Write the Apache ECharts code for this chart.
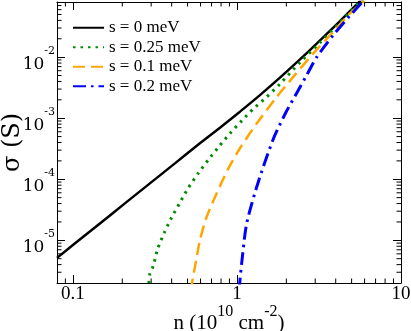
<!DOCTYPE html>
<html>
<head>
<meta charset="utf-8">
<script src="https://cdn.jsdelivr.net/npm/echarts@6/dist/echarts.min.js"></script>
<style>html,body{margin:0;padding:0;background:#fff}#c{width:411px;height:331px}</style>
</head>
<body>
<div id="c"></div>
<script>
// ---- data (n in 10^10 cm^-2, sigma in S) ----
const seriesNames = ['s = 0 meV', 's = 0.25 meV', 's = 0.1 meV', 's = 0.2 meV'];

const nS0 = [0.08, 0.1, 0.1461, 0.2075, 0.2947, 0.4188, 0.5947, 0.7877, 1.043, 1.381, 1.829, 2.422, 3.062, 4.246, 5.492, 6.03];
const sigS0 = [5.16e-6, 8.37e-6, 1.89e-5, 4.03e-5, 8.57e-5, 1.82e-4, 3.88e-4, 6.99e-4, 1.28e-3, 2.39e-3, 4.61e-3, 9.17e-3, 0.0166, 0.0389, 0.0776, 0.1005];

const nS025 = [0.2885, 0.2905, 0.2947, 0.3088, 0.3285, 0.3602, 0.3997, 0.4492, 0.5047, 0.5807, 0.668, 0.7766, 0.906, 1.073, 1.270, 1.503, 1.829, 2.422, 3.207, 4.246, 5.469, 6.1];
const sigS025 = [1.5e-6, 1.97e-6, 2.85e-6, 3.79e-6, 7.2e-6, 1.32e-5, 2.36e-5, 4.15e-5, 7.2e-5, 1.25e-4, 2.07e-4, 3.43e-4, 5.61e-4, 9.16e-4, 1.46e-3, 2.17e-3, 3.64e-3, 8.2e-3, 0.0172, 0.0368, 0.0755, 0.098];

const nS01 = [0.5264, 0.5316, 0.5543, 0.5947, 0.6534, 0.7517, 0.885, 1.043, 1.319, 1.746, 2.204, 2.919, 3.866, 4.887, 5.866, 6.29];
const sigS01 = [1.51e-6, 1.97e-6, 3.65e-6, 1.0e-5, 2.41e-5, 5.83e-5, 1.49e-4, 3.22e-4, 8.18e-4, 2.23e-3, 4.75e-3, 0.0115, 0.026, 0.052, 0.0807, 0.1];

const nS02 = [1.033, 1.039, 1.068, 1.146, 1.349, 1.664, 1.990, 2.365, 2.661, 3.062, 3.866, 4.887, 5.760, 6.2];
const sigS02 = [1.51e-6, 1.97e-6, 4.15e-6, 1.88e-5, 9.03e-5, 4.53e-4, 1.25e-3, 2.87e-3, 5.07e-3, 0.01, 0.023, 0.0479, 0.0781, 0.1];

// axis ranges and tick values
const xRange = [0.08, 10];
const yRange = [2e-6, 0.08];
const xMinorTicks = [0.09, 0.2, 0.3, 0.4, 0.5, 0.6, 0.7, 0.8, 0.9, 2, 3, 4, 5, 6, 7, 8, 9];
const yMinorTicks = [3e-6, 4e-6, 5e-6, 6e-6, 7e-6, 8e-6, 9e-6,
  2e-5, 3e-5, 4e-5, 5e-5, 6e-5, 7e-5, 8e-5, 9e-5,
  2e-4, 3e-4, 4e-4, 5e-4, 6e-4, 7e-4, 8e-4, 9e-4,
  2e-3, 3e-3, 4e-3, 5e-3, 6e-3, 7e-3, 8e-3, 9e-3,
  2e-2, 3e-2, 4e-2, 5e-2, 6e-2, 7e-2];

const pair = (xs, ys) => xs.map((x, i) => [x, ys[i]]);
const isPow10 = v => Math.abs(Math.log10(v) - Math.round(Math.log10(v))) < 1e-6;

const SERIF = 'Liberation Serif';
const WIDE = 'DejaVu Serif';

const chart = echarts.init(document.getElementById('c'), null, {renderer: 'canvas'});

const baseAxisX = {
  type: 'log', logBase: 10, min: xRange[0], max: xRange[1],
  splitLine: {show: false},
  axisLine: {show: true, lineStyle: {color: '#000', width: 1}},
  axisTick: {show: true, inside: true, length: 8, lineStyle: {color: '#000', width: 1}},
  minorTick: {show: false}
};
const baseAxisY = {
  type: 'log', logBase: 10, min: yRange[0], max: yRange[1],
  splitLine: {show: false},
  axisLine: {show: true, lineStyle: {color: '#000', width: 1}},
  axisTick: {show: true, inside: true, length: 8, lineStyle: {color: '#000', width: 1}},
  minorTick: {show: false}
};

function minorX(params, api) {
  const cs = params.coordSys;
  const px = api.coord([api.value(0), api.value(1)])[0];
  const st = {stroke: '#000', lineWidth: 1};
  return {type: 'group', children: [
    {type: 'line', shape: {x1: px, y1: cs.y + cs.height, x2: px, y2: cs.y + cs.height - 4.5}, style: st},
    {type: 'line', shape: {x1: px, y1: cs.y, x2: px, y2: cs.y + 4.5}, style: st}
  ]};
}
function minorY(params, api) {
  const cs = params.coordSys;
  const py = api.coord([api.value(0), api.value(1)])[1];
  const st = {stroke: '#000', lineWidth: 1};
  return {type: 'group', children: [
    {type: 'line', shape: {x1: cs.x, y1: py, x2: cs.x + 4.5, y2: py}, style: st},
    {type: 'line', shape: {x1: cs.x + cs.width, y1: py, x2: cs.x + cs.width - 4.5, y2: py}, style: st}
  ]};
}

const lineBase = {type: 'line', symbol: 'none', showSymbol: false, smooth: 0.25, clip: true, animation: false};

chart.setOption({
  animation: false,
  backgroundColor: '#fff',
  grid: {left: 57, top: 2, right: 10, bottom: 48, containLabel: false, outerBoundsMode: 'none'},
  legend: {
    orient: 'vertical', left: 72, top: 18, padding: 0, itemGap: 0,
    itemWidth: 31, itemHeight: 14,
    data: seriesNames,
    itemStyle: {opacity: 0},
    textStyle: {fontFamily: SERIF, fontSize: 17, color: '#000', lineHeight: 19.5}
  },
  xAxis: [
    Object.assign({}, baseAxisX, {
      position: 'bottom',
      axisLabel: {
        margin: 2, fontFamily: SERIF, fontSize: 19, color: '#000',
        formatter: v => isPow10(v) ? String(+v.toPrecision(6)) : ''
      },
      name: '{a|n (10}{s|10}{a| cm}{s|-2}{a|)}',
      nameLocation: 'middle', nameGap: 21, nameMoveOverlap: false,
      nameTextStyle: {
        color: '#000', fontFamily: SERIF,
        rich: {
          a: {fontFamily: SERIF, fontSize: 21, lineHeight: 30, verticalAlign: 'bottom', color: '#000'},
          s: {fontFamily: SERIF, fontSize: 16, lineHeight: 8, verticalAlign: 'top', color: '#000'}
        }
      }
    }),
    Object.assign({}, baseAxisX, {position: 'top', axisLabel: {show: false}})
  ],
  yAxis: [
    Object.assign({}, baseAxisY, {
      position: 'left',
      axisLabel: {
        margin: 2, color: '#000',
        padding: [4, 0, 0, 0],
        formatter: v => isPow10(v) ? '{b|10}{s|' + Math.round(Math.log10(v)) + '}' : '',
        rich: {
          b: {fontFamily: WIDE, fontSize: 17, lineHeight: 28, verticalAlign: 'bottom', color: '#000'},
          s: {fontFamily: WIDE, fontSize: 11, lineHeight: 14, verticalAlign: 'top', color: '#000'}
        }
      },
      name: 'σ (S)',
      nameLocation: 'middle', nameGap: 32, nameMoveOverlap: false,
      nameTextStyle: {fontFamily: WIDE, fontSize: 24, color: '#000'}
    }),
    Object.assign({}, baseAxisY, {position: 'right', axisLabel: {show: false}})
  ],
  series: [
    Object.assign({}, lineBase, {name: seriesNames[0], data: pair(nS0, sigS0), z: 3,
      lineStyle: {color: '#000000', width: 2.5, type: 'solid'}, itemStyle: {color: '#000000'}}),
    Object.assign({}, lineBase, {name: seriesNames[1], data: pair(nS025, sigS025), z: 4,
      lineStyle: {color: '#008c00', width: 3, type: [2.5, 5]}, itemStyle: {color: '#008c00'}}),
    Object.assign({}, lineBase, {name: seriesNames[2], data: pair(nS01, sigS01), z: 5,
      lineStyle: {color: '#ffa500', width: 2.5, type: [12, 6]}, itemStyle: {color: '#ffa500'}}),
    Object.assign({}, lineBase, {name: seriesNames[3], data: pair(nS02, sigS02), z: 6,
      lineStyle: {color: '#0000ff', width: 3, type: [13, 5, 2.5, 5]}, itemStyle: {color: '#0000ff'}}),
    {type: 'custom', silent: true, clip: false, data: xMinorTicks.map(v => [v, 1e-3]), renderItem: minorX, z: 2},
    {type: 'custom', silent: true, clip: false, data: yMinorTicks.map(v => [1, v]), renderItem: minorY, z: 2}
  ]
});
</script>
</body>
</html>
